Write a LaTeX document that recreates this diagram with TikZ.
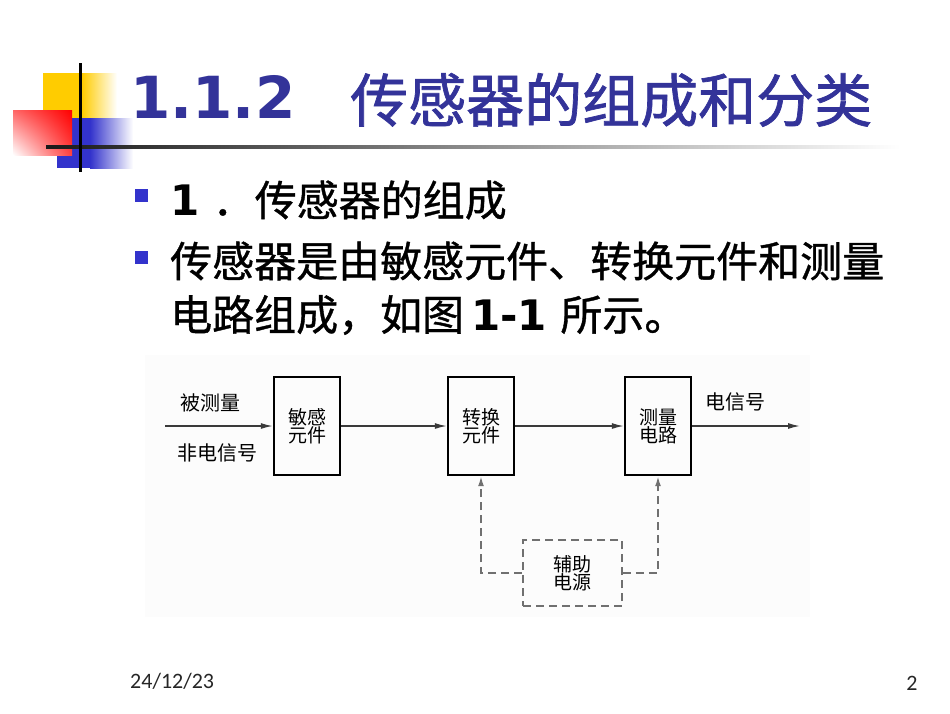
\documentclass[tikz,border=0pt]{standalone}
\usepackage{fontspec}
\setmainfont{DejaVu Sans}
\newfontfamily\cjk{Noto Sans CJK SC}
\newfontfamily\cjkbody[FakeBold=0.9]{Noto Sans CJK SC}
\newfontfamily\cjktitle[FakeBold=1.2]{Noto Sans CJK SC}
\newfontfamily\footfont{Carlito}
\usetikzlibrary{arrows.meta,positioning,shadings}

\definecolor{titleblue}{HTML}{333399}
\definecolor{bulletblue}{HTML}{3333CC}
\definecolor{logoyellow}{HTML}{FFCC00}
\definecolor{logored}{HTML}{FF0000}
\definecolor{logoblue}{HTML}{3333CC}
\definecolor{linegray}{HTML}{3A3A3A}
\definecolor{dashgray}{HTML}{707070}

\begin{document}
\begin{tikzpicture}[
    x=1pt, y=-1pt,
    block/.style={
        rectangle, draw=black, line width=2.4pt,
        align=center, minimum width=66pt, minimum height=98pt,
        inner sep=0pt, font=\cjk\fontsize{19}{18}\selectfont
    },
    auxbox/.style={
        rectangle, draw=dashgray, line width=1.7pt, dash pattern=on 8pt off 5pt,
        align=center, minimum width=99pt, minimum height=66pt,
        inner sep=0pt, font=\cjk\fontsize{19}{18}\selectfont
    },
    sigtext/.style={inner sep=0pt, font=\cjk\fontsize{20}{22}\selectfont},
    bullet/.style={rectangle, fill=bulletblue, minimum size=13pt, inner sep=0pt},
    bodytext/.style={anchor=west, inner sep=0pt, font=\fontsize{42}{50}\selectfont},
    arrow/.style={-{Latex[length=12pt,width=6pt]}, draw=linegray, line width=1.4pt},
    dasharrow/.style={-{Latex[length=10pt,width=6pt]}, draw=dashgray, line width=1.7pt,
        dash pattern=on 8pt off 5pt}
]
\useasboundingbox (0,0) rectangle (950,713);

% logo
\fill[logoyellow] (43,73) rectangle (82,118);
\shade[left color=logoyellow, right color=white] (82,73) rectangle (117,118);
\fill[logoblue] (57,118) rectangle (90,168);
\shade[left color=logoblue, right color=white] (90,118) rectangle (133,168);
\shade[upper right=logored, upper left=logored!60!white,
       lower right=logored!75!white, lower left=white] (13,110) rectangle (72,155);
\shade[left color=black!90, middle color=black!55, right color=white] (46,145.5) rectangle (900,148.5);
\draw[line width=3pt, black] (80,63) -- (80,172);

% title
\node[anchor=west, inner sep=0pt, text=titleblue, font=\bfseries\fontsize{58}{60}\selectfont] (secnum) at (130,97) {1.1.2};
\node[anchor=west, inner sep=0pt, text=titleblue, font=\cjktitle\fontsize{58}{60}\selectfont] (sectitle) at (350,100) {传感器的组成和分类};

% bullets
\node[bullet] (b1) at (141.5,195) {};
\node[bullet] (b2) at (141.5,257.5) {};
\node[bodytext] (item1) at (170,200) {\textbf{1} {\cjkbody ．传感器的组成}};
\node[bodytext] (item2) at (170,261) {\cjkbody 传感器是由敏感元件、转换元件和测量};
\node[bodytext] (item3) at (170,315) {{\cjkbody 电路组成，如图}\,\textbf{1-1} {\cjkbody 所示。}};

% figure 1-1
\fill[black!1] (145,355) rectangle (810,617);
\node[block] (sense) at (307,426) {敏感\\元件};
\node[block] (conv) at (481,426) {转换\\元件};
\node[block] (meas) at (658,426) {测量\\电路};
\node[auxbox] (aux) at (572.5,573) {辅助\\电源};
\coordinate (in) at (165,426);
\coordinate (out) at (800,426);
\node[sigtext] (quantity) at (210,403) {被测量};
\node[sigtext] (nonelec) at (217,453) {非电信号};
\node[sigtext] (elecsig) at (735,402) {电信号};

\draw[arrow] (in) -- (sense);
\draw[arrow] (sense) -- (conv);
\draw[arrow] (conv) -- (meas);
\draw[arrow] (meas) -- (out);
\draw[dasharrow] (aux.west) -| (conv.south);
\draw[dasharrow] (aux.east) -| (meas.south);

% footer
\node[anchor=west, inner sep=0pt, text=black!85, font=\footfont\fontsize{22}{24}\selectfont] (date) at (130,681) {24/12/23};
\node[inner sep=0pt, text=black!85, font=\footfont\fontsize{22}{24}\selectfont] (pagenum) at (912,683) {2};
\end{tikzpicture}
\end{document}
